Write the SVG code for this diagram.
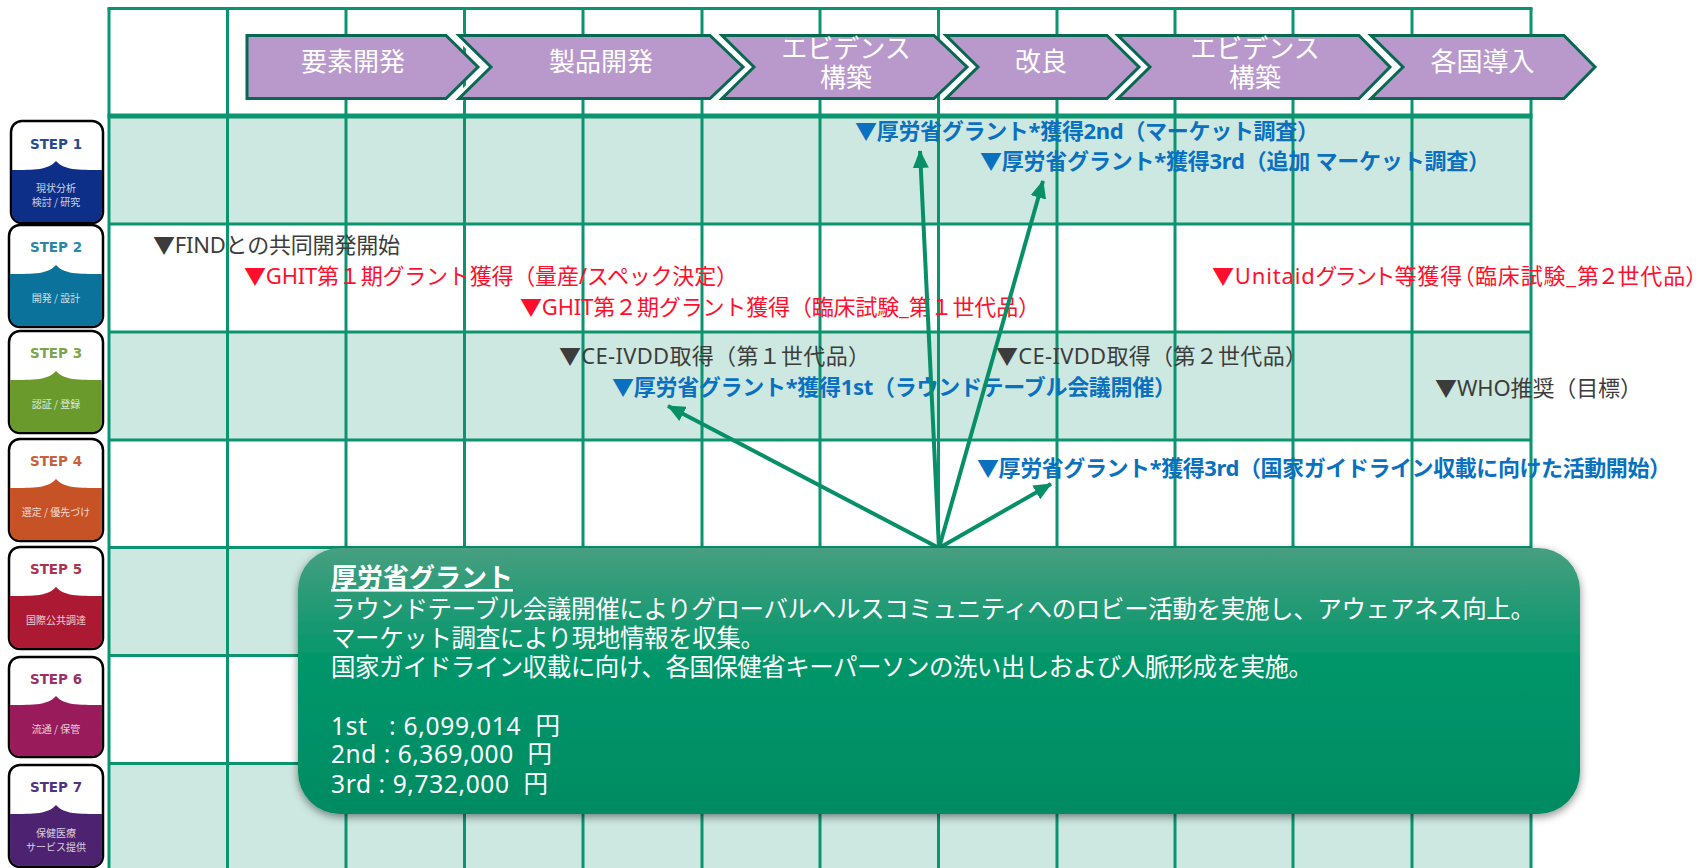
<svg xmlns="http://www.w3.org/2000/svg" width="1699" height="868" viewBox="0 0 1699 868">
<style>
text{font-family:"Noto Sans","Noto Sans CJK JP",sans-serif}
.g{stroke:#0a9570;stroke-width:3;fill:none}
.chev{fill:#b999cc;stroke:#07694f;stroke-width:3}
.halo{fill:none;stroke:#fff;stroke-width:9}
.ct{fill:#fff;font-size:26px;text-anchor:middle}
.t{font-size:22px}
.k{fill:#3c3c3c}.r{fill:#ff0f2d}
.b{fill:#0a70c0;font-weight:700}
.a{stroke:#078f68;stroke-width:4;fill:none;marker-end:url(#ah)}
.cw{fill:#fff;font-size:24.500px}
.card{stroke:#000;stroke-width:2.500;fill:#fff}
.s{font-size:13.500px;font-weight:700;text-anchor:middle;font-family:"DejaVu Sans",sans-serif}
.sub{font-size:10px;fill:#fff;fill-opacity:.8;text-anchor:middle;font-family:"Noto Sans CJK JP",sans-serif}
</style>
<defs>
<marker id="ah" markerUnits="userSpaceOnUse" markerWidth="18" markerHeight="16" refX="17" refY="8" orient="auto"><path d="M0 0L18 8L0 16z" fill="#078f68"/></marker>
<linearGradient id="cg" x1="0" y1="0" x2="0" y2="1"><stop offset="0" stop-color="#479f80"/><stop offset=".42" stop-color="#02966a"/><stop offset="1" stop-color="#018b63"/></linearGradient>
<filter id="sh" x="-3%" y="-6%" width="106%" height="114%"><feDropShadow dx="0" dy="3" stdDeviation="4" flood-color="#000" flood-opacity=".45"/></filter>
</defs>
<g id="grid">
<rect x="109" y="116" width="1422" height="108" fill="#cde8e0"/>
<rect x="109" y="332" width="1422" height="108" fill="#cde8e0"/>
<rect x="109" y="547.500" width="1422" height="108" fill="#cde8e0"/>
<rect x="109" y="763.500" width="1422" height="105" fill="#cde8e0"/>
<path class="g" d="M109 8V868M227.500 8V868M346 8V868M464.500 8V868M583 8V868M702 8V868M820 8V868M938.500 8V868M1057 8V868M1175 8V868M1293 8V868M1412 8V868M1531 8V868"/>
<path class="g" d="M107.500 8.500H1532.500M109 224H1531M109 332H1531M109 440H1531M109 547.500H1531M109 655.500H1531M109 763.500H1531"/>
<path class="g" style="stroke-width:5" d="M107.500 116H1532.500"/>
</g>
<g id="phase-1"><path class="chev" d="M247 35.500H446L478 67L446 98.500H247z"/><text class="ct" x="353" y="71">要素開発</text></g>
<g id="phase-2"><path class="halo" d="M459 35.500L491 67L459 98.500"/><path class="chev" d="M459 35.500H710L743 67L710 98.500H459L491 67z"/><text class="ct" x="601" y="71">製品開発</text></g>
<g id="phase-3"><path class="halo" d="M722 35.500L754 67L722 98.500"/><path class="chev" d="M722 35.500H934L967 67L934 98.500H722L754 67z"/><text class="ct" x="846" y="58">エビデンス</text><text class="ct" x="846" y="87">構築</text></g>
<g id="phase-4"><path class="halo" d="M946 35.500L978 67L946 98.500"/><path class="chev" d="M946 35.500H1107L1139 67L1107 98.500H946L978 67z"/><text class="ct" x="1041" y="71">改良</text></g>
<g id="phase-5"><path class="halo" d="M1118 35.500L1150 67L1118 98.500"/><path class="chev" d="M1118 35.500H1359L1390 67L1359 98.500H1118L1150 67z"/><text class="ct" x="1255" y="58">エビデンス</text><text class="ct" x="1255" y="87">構築</text></g>
<g id="phase-6"><path class="halo" d="M1371 35.500L1403 67L1371 98.500"/><path class="chev" d="M1371 35.500H1564L1595 67L1564 98.500H1371L1403 67z"/><text class="ct" x="1482.500" y="71">各国導入</text></g>
<g id="step-1"><rect class="card" x="11" y="121" width="92" height="102" rx="11"/><path fill="#0d2f87" d="M12 170C35 170 48 170 56 161C64 170 77 170 102 170V211Q102 222 91 222H23Q12 222 12 211z"/><text class="s" x="56" y="148.500" fill="#2a4a90">STEP 1</text><text class="sub" x="56" y="192">現状分析</text><text class="sub" x="56" y="206">検討 / 研究</text></g>
<g id="step-2"><rect class="card" x="9" y="225" width="94" height="102" rx="11"/><path fill="#0b739b" d="M10 274C35 274 48 274 56 265C64 274 77 274 102 274V315Q102 326 91 326H21Q10 326 10 315z"/><text class="s" x="56" y="252" fill="#2a86a5">STEP 2</text><text class="sub" x="56" y="302">開発 / 設計</text></g>
<g id="step-3"><rect class="card" x="9" y="331" width="94" height="102" rx="11"/><path fill="#6a9a2c" d="M10 380C35 380 48 380 56 371C64 380 77 380 102 380V421Q102 432 91 432H21Q10 432 10 421z"/><text class="s" x="56" y="358" fill="#7aa54a">STEP 3</text><text class="sub" x="56" y="408">認証 / 登録</text></g>
<g id="step-4"><rect class="card" x="9" y="439" width="94" height="102" rx="11"/><path fill="#c75225" d="M10 488C35 488 48 488 56 479C64 488 77 488 102 488V529Q102 540 91 540H21Q10 540 10 529z"/><text class="s" x="56" y="466" fill="#c8603a">STEP 4</text><text class="sub" x="56" y="516">選定 / 優先づけ</text></g>
<g id="step-5"><rect class="card" x="9" y="547" width="94" height="102" rx="11"/><path fill="#ab1a32" d="M10 596C35 596 48 596 56 587C64 596 77 596 102 596V637Q102 648 91 648H21Q10 648 10 637z"/><text class="s" x="56" y="574" fill="#ab3350">STEP 5</text><text class="sub" x="56" y="624">国際公共調達</text></g>
<g id="step-6"><rect class="card" x="9" y="657" width="94" height="100" rx="11"/><path fill="#9a1b5c" d="M10 705C35 705 48 705 56 696C64 705 77 705 102 705V745Q102 756 91 756H21Q10 756 10 745z"/><text class="s" x="56" y="684" fill="#9a3068">STEP 6</text><text class="sub" x="56" y="733">流通 / 保管</text></g>
<g id="step-7"><rect class="card" x="9" y="765" width="94" height="102" rx="11"/><path fill="#4d2270" d="M10 814C35 814 48 814 56 805C64 814 77 814 102 814V855Q102 866 91 866H21Q10 866 10 855z"/><text class="s" x="56" y="792" fill="#4f3580">STEP 7</text><text class="sub" x="56" y="837">保健医療</text><text class="sub" x="56" y="851">サービス提供</text></g>
<g id="labels">
<text class="t k" x="153" y="253" textLength="247">▼FINDとの共同開発開始</text>
<text class="t r" x="244" y="284" textLength="494">▼GHIT第１期グラント獲得（量産/スペック決定）</text>
<text class="t r" x="520" y="315" textLength="520">▼GHIT第２期グラント獲得（臨床試験_第１世代品）</text>
<text class="t r" x="1212" y="284" textLength="485" style="font-feature-settings:'palt'">▼Unitaidグラント等獲得（臨床試験_第２世代品）</text>
<text class="t k" x="559" y="364" textLength="311">▼CE-IVDD取得（第１世代品）</text>
<text class="t k" x="996" y="364" textLength="311">▼CE-IVDD取得（第２世代品）</text>
<text class="t b" x="612" y="395" textLength="564">▼厚労省グラント*獲得1st（ラウンドテーブル会議開催）</text>
<text class="t k" x="1435" y="396" textLength="207">▼WHO推奨（目標）</text>
<text class="t b" x="855" y="139" textLength="464">▼厚労省グラント*獲得2nd（マーケット調査）</text>
<text class="t b" x="980" y="169" textLength="510">▼厚労省グラント*獲得3rd（追加 マーケット調査）</text>
<text class="t b" x="977" y="476" textLength="694">▼厚労省グラント*獲得3rd（国家ガイドライン収載に向けた活動開始）</text>
</g>
<g id="connectors">
<line class="a" x1="939" y1="548" x2="920" y2="151"/>
<line class="a" x1="939" y1="548" x2="1043" y2="181"/>
<line class="a" x1="939" y1="548" x2="668" y2="406"/>
<line class="a" x1="939" y1="548" x2="1051" y2="484"/>
</g>
<g id="callout">
<rect x="298" y="548" width="1282" height="266" rx="42" fill="url(#cg)" filter="url(#sh)"/>
<text class="cw" x="331" y="587" style="font-size:26px;font-weight:700;text-decoration:underline" textLength="182">厚労省グラント</text>
<text class="cw" x="331" y="618" textLength="1204">ラウンドテーブル会議開催によりグローバルヘルスコミュニティへのロビー活動を実施し、アウェアネス向上。</text>
<text class="cw" x="331" y="647" textLength="434">マーケット調査により現地情報を収集。</text>
<text class="cw" x="331" y="676" textLength="982">国家ガイドライン収載に向け、各国保健省キーパーソンの洗い出しおよび人脈形成を実施。</text>
<text class="cw" x="331" y="735" xml:space="preserve" textLength="229">1st   : 6,099,014  円</text>
<text class="cw" x="331" y="763" xml:space="preserve" textLength="221">2nd : 6,369,000  円</text>
<text class="cw" x="331" y="793" xml:space="preserve" textLength="217">3rd : 9,732,000  円</text>
</g>
</svg>
